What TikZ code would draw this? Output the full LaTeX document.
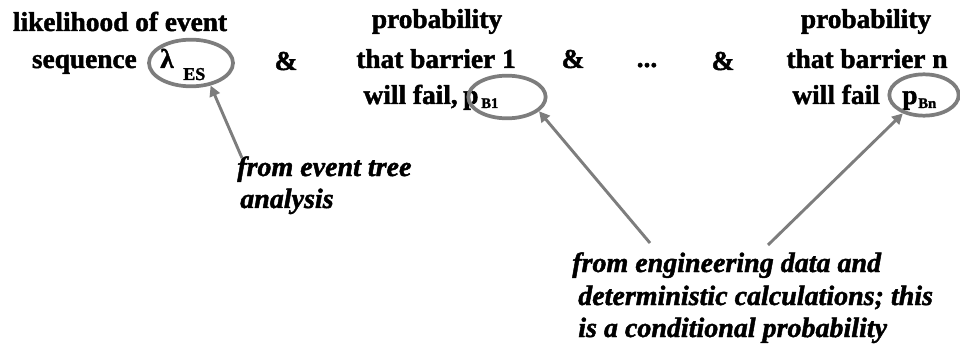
\documentclass[tikz,border=0pt]{standalone}
\usepackage{fontspec}
\setmainfont{Liberation Serif}[BoldFeatures={FakeBold=1.6},BoldItalicFeatures={FakeBold=1.6}]
\usetikzlibrary{shapes.geometric,arrows.meta}
\definecolor{ringgray}{RGB}{125,125,125}
\newcommand{\topfont}{\fontsize{20.5}{24}\selectfont\bfseries}
\newcommand{\subfont}{\fontsize{13.5}{16}\selectfont\bfseries}
\newcommand{\smallsubfont}{\fontsize{11}{13}\selectfont\bfseries}
\newcommand{\notefont}{\fontsize{21}{25}\selectfont\bfseries\itshape}
\tikzset{
  lbl/.style={font=\topfont, inner sep=0pt, anchor=base},
  sublbl/.style={font=\subfont, inner sep=0pt, anchor=base west},
  smallsub/.style={font=\smallsubfont, inner sep=0pt, anchor=base west},
  note/.style={font=\notefont, inner sep=0pt, anchor=base west},
  ring/.style={ellipse, draw=ringgray, line width=2.8pt, inner sep=0pt},
  pointer/.style={draw=ringgray, line width=2.2pt, -{Triangle[length=8pt,width=8pt]}}
}
\begin{document}
\begin{tikzpicture}[x=0.75pt,y=-0.75pt]
\useasboundingbox (0,0) rectangle (960,349);
% left block
\node[lbl] (l1) at (120,31) {likelihood of event};
\node[lbl, anchor=base east] (l2) at (137,68) {sequence};
\node[lbl, anchor=base west] (lam) at (160,68) {λ};
\node[sublbl] (es) at (183,80) {ES};
\node[ring, minimum width=63pt, minimum height=35pt] (e1) at (191,63) {};
\node[lbl] (amp1) at (286,70) {\&};
% middle block
\node[lbl] (m1) at (437,28) {probability};
\node[lbl] (m2) at (436,68) {that barrier 1};
\node[lbl, anchor=base east] (m3) at (458,104) {will\ fail,};
\node[lbl, anchor=base west] (pb1) at (463,104) {p};
\node[smallsub] (b1) at (481,108) {B1};
\node[ring, minimum width=58pt, minimum height=32pt] (e2) at (507,97) {};
\node[lbl] (amp2) at (573,68) {\&};
\node[lbl] (dots) at (647,67) {...};
\node[lbl] (amp3) at (723,70) {\&};
% right block
\node[lbl] (r1) at (866,28) {probability};
\node[lbl] (r2) at (867,68) {that barrier n};
\node[lbl, anchor=base east] (r3) at (880,104) {will\ fail};
\node[lbl, anchor=base west] (pbn) at (902,104) {p};
\node[smallsub] (bn) at (918,108) {Bn};
\node[ring, minimum width=52pt, minimum height=31pt] (e3) at (924,95) {};
% notes
\node[note] (n1) at (237,176) {from event tree};
\node[note] (n2) at (240,208) {analysis};
\node[note] (n3) at (572,272) {from engineering data and};
\node[note] (n4) at (578,305) {deterministic calculations; this};
\node[note] (n5) at (578,337) {is a conditional probability};
% arrows
\coordinate (t1) at (242,158);
\coordinate (t2) at (650,243);
\coordinate (t3) at (768,245);
\draw[pointer] (t1) -- (e1.-49);
\draw[pointer] (t2) -- (e2.-24);
\draw[pointer] (t3) -- (e3.-139);
\end{tikzpicture}
\end{document}
